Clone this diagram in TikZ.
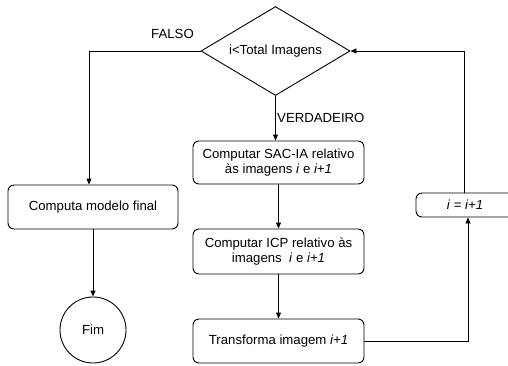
\documentclass[tikz,border=0pt]{standalone}
\usepackage{fontspec}
\setmainfont{Liberation Sans}
\usetikzlibrary{shapes.geometric,arrows.meta}

\tikzset{
  every node/.style={font=\fontsize{13.2}{14.5}\selectfont},
  flow/.style={line width=0.9pt},
  arr/.style={flow,-{Triangle[length=6pt,width=5pt]}},
  procbox/.style={draw,line width=0.9pt,rounded corners=6pt,align=center,inner sep=0pt},
  decision/.style={draw,line width=0.9pt,diamond,aspect=1.67,inner sep=0pt,
                   minimum width=149pt,minimum height=89pt},
  endcircle/.style={draw,line width=0.9pt,circle,minimum size=66pt,inner sep=0pt},
  lbl/.style={inner sep=0pt}
}

\begin{document}
\begin{tikzpicture}[x=1pt,y=-1pt]
  \useasboundingbox (0,0) rectangle (508,365);
  \clip (0,0) rectangle (508,365);

  % decision
  \node[decision] (cond) at (275.5,51) {i<Total Imagens};

  % left branch
  \node[procbox,minimum width=170pt,minimum height=44pt] (final) at (93,207) {Computa modelo final};
  \node[endcircle] (fim) at (93,330) {Fim};

  % main column
  \node[procbox,minimum width=171pt,minimum height=43pt] (sac) at (278.5,162.5)
    {Computar SAC-IA relativo\\às imagens \textit{i} e \textit{i+1}};
  \node[procbox,minimum width=171pt,minimum height=45pt] (icp) at (278.5,251.5)
    {Computar ICP relativo às\\imagens \ \textit{i} e \textit{i+1}};
  \node[procbox,minimum width=171pt,minimum height=44pt] (trans) at (278.5,341)
    {Transforma imagem \textit{i+1}};

  % increment
  \node[procbox,minimum width=98pt,minimum height=24pt] (inc) at (465,205) {\textit{i} = \textit{i+1}};

  % labels
  \node[lbl] (lfalse) at (172.5,34) {FALSO};
  \node[lbl,anchor=west] (ltrue) at (277,118) {VERDADEIRO};

  % connectors
  \draw[arr] (cond.west) -| ([xshift=-4pt]final.north);
  \draw[arr] (final.south) -- (fim.north);
  \draw[arr] (cond.south) -- (cond.south |- sac.north);
  \draw[arr] (sac.south) -- (icp.north);
  \draw[arr] (icp.south) -- (trans.north);
  \draw[arr] (trans.east) -| ([xshift=3pt]inc.south);
  \draw[arr] ([xshift=-1pt]inc.north) |- (cond.east);
\end{tikzpicture}
\end{document}
